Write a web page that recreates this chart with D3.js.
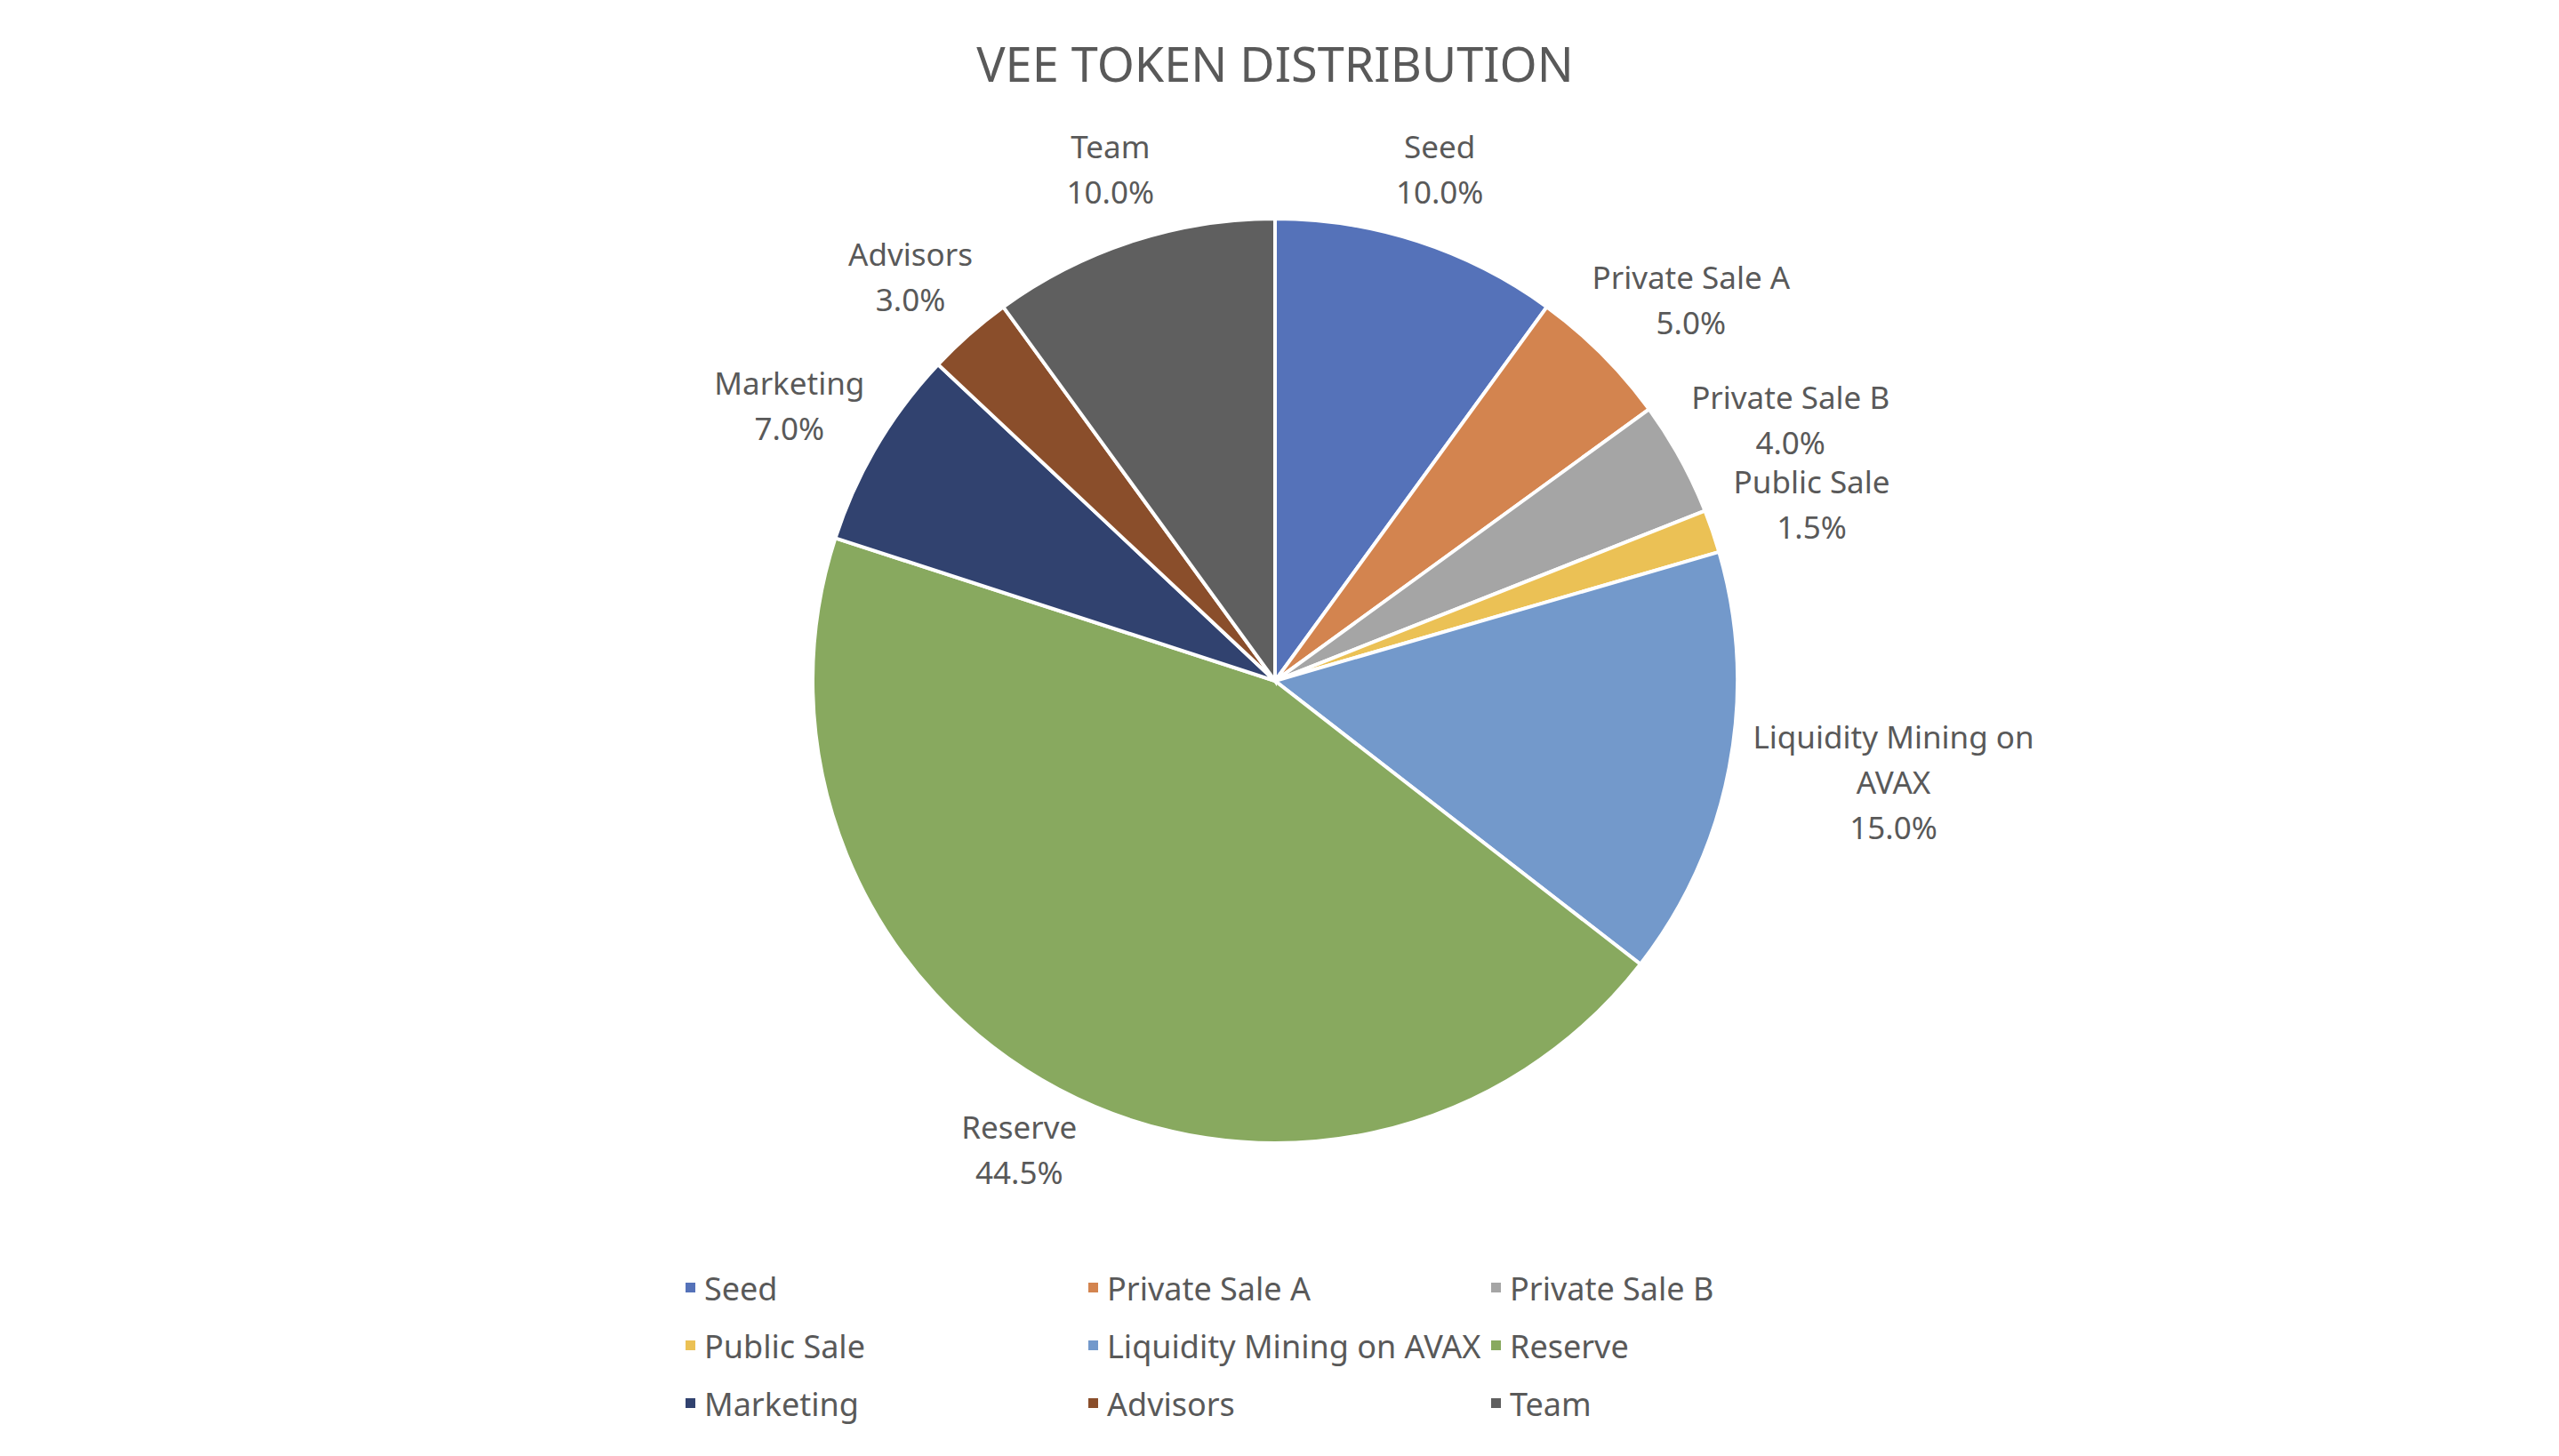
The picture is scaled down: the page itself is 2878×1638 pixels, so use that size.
<!DOCTYPE html>
<html>
<head>
<meta charset="utf-8">
<script src="https://d3js.org/d3.v7.min.js"></script>
<style>
  body { margin: 0; background: white; }
  text { font-family: "Noto Sans", "Open Sans", sans-serif; fill: #595959; }
</style>
</head>
<body>
<script>
  var categories = ["Seed", "Private Sale A", "Private Sale B", "Public Sale", "Liquidity Mining on AVAX", "Reserve", "Marketing", "Advisors", "Team"];
  var values = [10.0, 5.0, 4.0, 1.5, 15.0, 44.5, 7.0, 3.0, 10.0];
  var colors = ["#5572b9", "#d3844f", "#a5a5a5", "#ebc155", "#7399cb", "#88a95f", "#31426f", "#8a4e2b", "#5f5f5f"];

  var width = 2878, height = 1638;
  var cx = 1434, cy = 766, r = 520;

  var svg = d3.select("body").append("svg")
      .attr("width", width)
      .attr("height", height);

  svg.append("text")
      .attr("x", cx).attr("y", 92)
      .attr("text-anchor", "middle")
      .style("font-size", "54px")
      .text("VEE TOKEN DISTRIBUTION");

  var data = categories.map(function(c, i) { return {name: c, value: values[i], color: colors[i]}; });

  var pie = d3.pie().value(function(d) { return d.value; }).sort(null);
  var arc = d3.arc().innerRadius(0).outerRadius(r);
  var arcs = pie(data);

  var g = svg.append("g").attr("transform", "translate(" + cx + "," + cy + ")");

  g.selectAll("path")
    .data(arcs)
    .enter()
    .append("path")
    .attr("d", arc)
    .style("fill", function(d) { return d.data.color; })
    .style("stroke", "white")
    .style("stroke-width", 4);

  // labels outside the pie, split into lines like Excel
  function labelLines(d) {
    var n = d.data.name === "Liquidity Mining on AVAX" ? ["Liquidity Mining on", "AVAX"] : [d.data.name];
    return n.concat([d.data.value.toFixed(1) + "%"]);
  }
  var lineH = 51;
  arcs.forEach(function(d) {
    var a = (d.startAngle + d.endAngle) / 2;
    var lines = labelLines(d);
    var tmp = g.append("text").style("font-size", "35px");
    lines.forEach(function(l, i) {
      tmp.append("tspan").attr("x", 0).attr("dy", i === 0 ? 0 : lineH).text(l);
    });
    var bb = tmp.node().getBBox();
    var hw = bb.width / 2, hh = lines.length * lineH / 2;
    var px = Math.sin(a) * (r + 30) + Math.sin(a) * hw;
    var py = -Math.cos(a) * (r + 30) - Math.cos(a) * hh;
    tmp.attr("text-anchor", "middle")
       .attr("transform", "translate(" + px + "," + (py - hh + 35) + ")");
    tmp.selectAll("tspan").attr("x", 0);
  });

  // legend
  var legX = [771, 1224, 1677], legY = [1450, 1515, 1580];
  var leg = svg.append("g");
  data.forEach(function(d, i) {
    var x = legX[i % 3], y = legY[Math.floor(i / 3)];
    leg.append("rect").attr("x", x).attr("y", y - 7).attr("width", 11).attr("height", 11).style("fill", d.color);
    leg.append("text").attr("x", x + 21).attr("y", y).attr("dy", "0.35em")
       .style("font-size", "36px").text(d.name);
  });
</script>
</body>
</html>
